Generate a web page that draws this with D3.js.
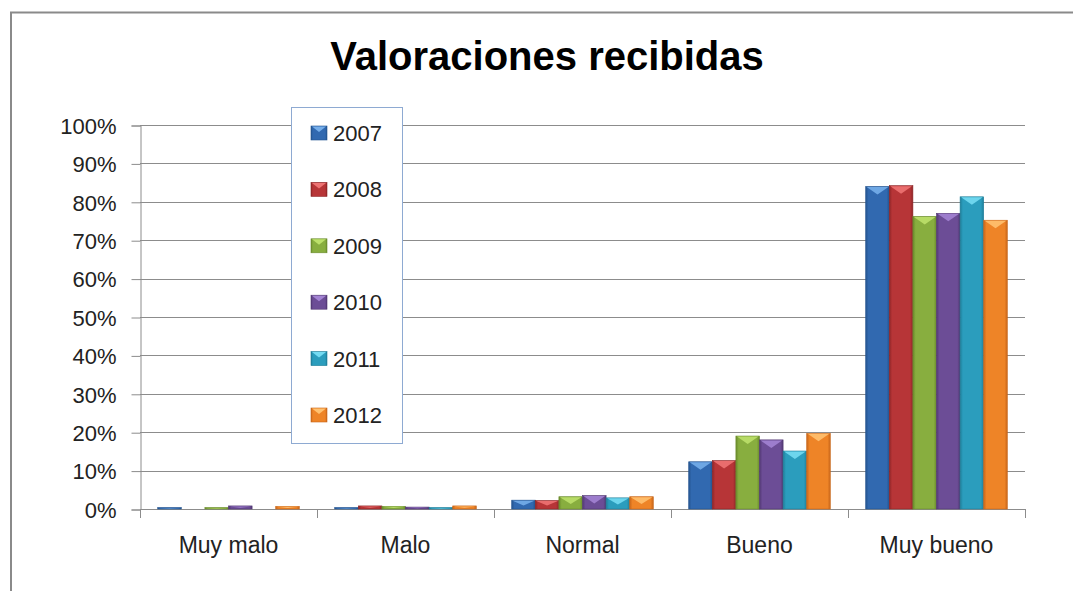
<!DOCTYPE html>
<html>
<head>
<meta charset="utf-8">
<script src="https://cdn.jsdelivr.net/npm/d3@7"></script>
<style>
  html, body { margin: 0; padding: 0; background: #ffffff; }
  svg { display: block; }
</style>
</head>
<body>
<svg id="chart" width="1073" height="591"></svg>
<script>
// ---- data ----
const categories = ["Muy malo", "Malo", "Normal", "Bueno", "Muy bueno"];
const seriesNames = ["2007", "2008", "2009", "2010", "2011", "2012"];
const v2007 = [0.4, 0.4, 2.3, 12.3, 84.0];
const v2008 = [0.0, 0.8, 2.2, 12.6, 84.2];
const v2009 = [0.4, 0.7, 3.2, 19.0, 76.2];
const v2010 = [0.8, 0.5, 3.5, 18.0, 77.0];
const v2011 = [0.0, 0.4, 2.9, 15.1, 81.3];
const v2012 = [0.7, 0.8, 3.2, 19.7, 75.2];
const seriesValues = [v2007, v2008, v2009, v2010, v2011, v2012];
const yTicks = [0, 10, 20, 30, 40, 50, 60, 70, 80, 90, 100];
const titleText = "Valoraciones recibidas";

// ---- styles ----
const baseColors  = ["#3169B0", "#B73537", "#88AE3F", "#6C4D96", "#2B9DBD", "#EE8427"];
const edgeColors  = ["#24548F", "#8E2527", "#6A8B2C", "#523873", "#1E7E99", "#C8661A"];
const lightColors = ["#76AEEA", "#EE7373", "#BCE06A", "#A383D3", "#74DBF2", "#FFC170"];
const font = "'Liberation Sans', Arial, sans-serif";

const svg = d3.select("#chart");
const defs = svg.append("defs");

seriesNames.forEach((s, i) => {
  const g = defs.append("linearGradient").attr("id", "grad" + i)
    .attr("x1", "0").attr("x2", "1").attr("y1", "0").attr("y2", "0");
  g.append("stop").attr("offset", "0").attr("stop-color", edgeColors[i]);
  g.append("stop").attr("offset", "0.12").attr("stop-color", baseColors[i]);
  g.append("stop").attr("offset", "0.88").attr("stop-color", baseColors[i]);
  g.append("stop").attr("offset", "1").attr("stop-color", edgeColors[i]);
});

// chart frame
svg.append("rect").attr("x", 11).attr("y", 12.5).attr("width", 1100).attr("height", 620)
  .attr("fill", "#ffffff").attr("stroke", "#8a8a8a").attr("stroke-width", 2);

// title
svg.append("text").attr("x", 547).attr("y", 70).attr("text-anchor", "middle")
  .attr("font-family", font).attr("font-weight", "bold").attr("font-size", 40)
  .attr("fill", "#000").text(titleText);

// scales
const plotL = 140, plotR = 1025, plotT = 125, plotB = 509;
const x0 = d3.scaleBand().domain(categories).range([plotL, plotR]).padding(0);
const x1 = d3.scaleBand().domain(seriesNames).range([0, x0.bandwidth()])
  .paddingInner(0).paddingOuter(0.75);
const y = d3.scaleLinear().domain([0, 100]).range([plotB, plotT]);

// gridlines
svg.append("g").selectAll("line").data(yTicks.filter(t => t > 0)).join("line")
  .attr("x1", plotL).attr("x2", plotR)
  .attr("y1", d => Math.round(y(d)) + 0.5).attr("y2", d => Math.round(y(d)) + 0.5)
  .attr("stroke", "#8c8c8c").attr("stroke-width", 1);

// y axis
const yAxis = d3.axisLeft(y).tickValues(yTicks).tickFormat(d => d + "%").tickSize(9).tickPadding(15);
const gy = svg.append("g").attr("transform", `translate(${plotL + 0.5},0.5)`).call(yAxis);
gy.select(".domain").attr("stroke", "#8c8c8c");
gy.selectAll(".tick line").attr("stroke", "#8c8c8c");
gy.selectAll(".tick text").attr("font-family", font).attr("font-size", 22).attr("fill", "#222")
  .attr("dy", "0.35em");

// x axis (ticks at category boundaries)
svg.append("line").attr("x1", plotL).attr("x2", plotR)
  .attr("y1", plotB + 0.5).attr("y2", plotB + 0.5).attr("stroke", "#8c8c8c");
const boundaries = categories.map(c => x0(c)).concat([plotR]);
svg.append("g").selectAll("line").data(boundaries).join("line")
  .attr("x1", d => Math.round(d) + 0.5).attr("x2", d => Math.round(d) + 0.5)
  .attr("y1", plotB).attr("y2", plotB + 9).attr("stroke", "#8c8c8c");
svg.append("g").selectAll("text").data(categories).join("text")
  .attr("x", d => x0(d) + x0.bandwidth() / 2).attr("y", 553)
  .attr("text-anchor", "middle").attr("font-family", font).attr("font-size", 23)
  .attr("fill", "#222").text(d => d);

// bars
const barData = [];
seriesNames.forEach((s, i) => {
  categories.forEach((c, j) => {
    barData.push({ s, i, c, v: seriesValues[i][j] });
  });
});
const bars = svg.append("g").selectAll("g").data(barData.filter(d => d.v > 0)).join("g");
bars.append("rect")
  .attr("x", d => x0(d.c) + x1(d.s))
  .attr("y", d => y(d.v))
  .attr("width", x1.bandwidth())
  .attr("height", d => plotB - y(d.v))
  .attr("fill", d => `url(#grad${d.i})`)
  .attr("stroke", d => edgeColors[d.i]).attr("stroke-width", 0.6);
bars.append("polygon")
  .attr("points", d => {
    const bx = x0(d.c) + x1(d.s), w = x1.bandwidth(), ty = y(d.v);
    const h = Math.min(8, (plotB - ty) * 0.6);
    return `${bx + 1},${ty + 0.5} ${bx + w - 1},${ty + 0.5} ${bx + w / 2},${ty + h}`;
  })
  .attr("fill", d => lightColors[d.i]).attr("opacity", 0.9);

// legend
const lg = svg.append("g");
lg.append("rect").attr("x", 291.5).attr("y", 107.5).attr("width", 111).attr("height", 336)
  .attr("fill", "#ffffff").attr("stroke", "#8EAAD2").attr("stroke-width", 1);
const ly = d3.scalePoint().domain(seriesNames).range([133, 415]);
const items = lg.selectAll("g").data(seriesNames).join("g")
  .attr("transform", d => `translate(0,${ly(d)})`);
items.append("rect").attr("x", 311).attr("y", -7).attr("width", 16).attr("height", 14)
  .attr("fill", (d, i) => `url(#grad${i})`).attr("stroke", (d, i) => edgeColors[i]).attr("stroke-width", 0.6);
items.append("polygon")
  .attr("points", "312,-6.5 326,-6.5 319,-1")
  .attr("fill", (d, i) => lightColors[i]);
items.append("text").attr("x", 333).attr("y", 0).attr("dy", "0.36em")
  .attr("font-family", font).attr("font-size", 22).attr("fill", "#222").text(d => d);
</script>
</body>
</html>
